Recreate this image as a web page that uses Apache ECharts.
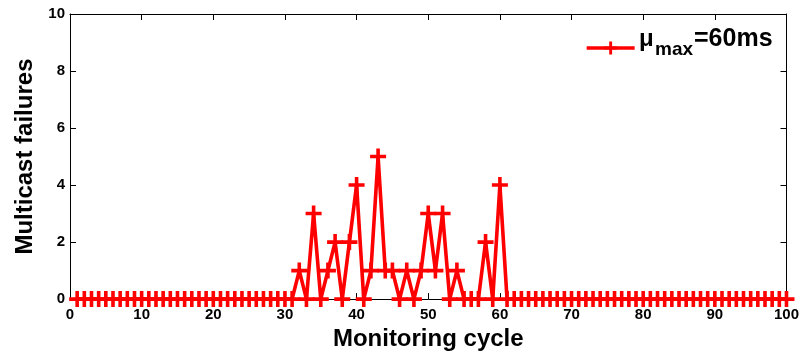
<!DOCTYPE html>
<html>
<head>
<meta charset="utf-8">
<script src="https://cdn.jsdelivr.net/npm/echarts@6/dist/echarts.min.js"></script>
<style>
  html, body { margin: 0; padding: 0; background: #fff; }
  #chart { width: 802px; height: 356px; }
</style>
</head>
<body>
<div id="chart"></div>
<script>
const FONT = "'Liberation Sans', Arial, sans-serif";
const RED = "#ff0000";

// failures per monitoring cycle, cycles 1..100
const failures = [
  0, 0, 0, 0, 0, 0, 0, 0, 0, 0,
  0, 0, 0, 0, 0, 0, 0, 0, 0, 0,
  0, 0, 0, 0, 0, 0, 0, 0, 0, 0,
  0, 1, 0, 3, 0, 1, 2, 0, 2, 4,
  0, 1, 5, 1, 1, 0, 1, 0, 1, 3,
  1, 3, 0, 1, 0, 0, 0, 2, 0, 4,
  0, 0, 0, 0, 0, 0, 0, 0, 0, 0,
  0, 0, 0, 0, 0, 0, 0, 0, 0, 0,
  0, 0, 0, 0, 0, 0, 0, 0, 0, 0,
  0, 0, 0, 0, 0, 0, 0, 0, 0, 0,
];
const firstCycle = 1;
const xTicks = [0, 10, 20, 30, 40, 50, 60, 70, 80, 90, 100];
const yTicks = [0, 2, 4, 6, 8, 10];

const points = failures.map((v, i) => [firstCycle + i, v]);

// plus marker, filled bars
const PLUS = "path://M0,6.2h16v3.6h-16z M6.2,0h3.6v16h-3.6z";

const chart = echarts.init(document.getElementById("chart"), null, { renderer: "canvas" });

const axisLine = { show: true, onZero: false, lineStyle: { color: "#000", width: 1 } };
const tickStyle = { show: true, inside: true, length: 6, lineStyle: { color: "#000" } };
const labelStyle = { color: "#000", fontSize: 15, fontWeight: "bold", fontFamily: FONT };

chart.setOption({
  animation: false,
  grid: { left: 70, right: 12, top: 14, bottom: 54, containLabel: false },
  legend: {
    data: ["mu"],
    left: 585,
    top: 40,
    padding: 0,
    itemWidth: 48,
    itemHeight: 16,
    lineStyle: { width: 3.3, color: RED },
    formatter: () => "",
  },
  xAxis: [
    {
      type: "value",
      min: xTicks[0],
      max: xTicks[xTicks.length - 1],
      interval: 10,
      axisLine,
      axisTick: tickStyle,
      splitLine: { show: false },
      axisLabel: { ...labelStyle, margin: 8 },
      name: "Monitoring cycle",
      nameLocation: "middle",
      nameGap: 22,
      nameTextStyle: { color: "#000", fontSize: 24, fontWeight: "bold", fontFamily: FONT },
    },
    {
      type: "value",
      position: "top",
      min: 0,
      max: 100,
      interval: 10,
      axisLine,
      axisTick: tickStyle,
      axisLabel: { show: false },
      splitLine: { show: false },
    },
  ],
  yAxis: [
    {
      type: "value",
      min: yTicks[0],
      max: yTicks[yTicks.length - 1],
      interval: 2,
      axisLine,
      axisTick: tickStyle,
      splitLine: { show: false },
      axisLabel: { ...labelStyle, margin: 5 },
      name: "Multicast failures",
      nameLocation: "middle",
      nameGap: 30,
      nameTextStyle: { color: "#000", fontSize: 24, fontWeight: "bold", fontFamily: FONT },
    },
    {
      type: "value",
      position: "right",
      min: 0,
      max: 10,
      interval: 2,
      axisLine,
      axisTick: tickStyle,
      axisLabel: { show: false },
      splitLine: { show: false },
    },
  ],
  series: [
    {
      name: "mu",
      type: "line",
      data: points,
      clip: false,
      symbol: PLUS,
      symbolSize: 16,
      showAllSymbol: true,
      lineStyle: { color: RED, width: 3.6 },
      itemStyle: { color: RED },
      z: 3,
    },
  ],
  graphic: [
    {
      type: "text",
      left: 639,
      top: 27,
      style: { text: "\u03bc", font: "bold 24px " + FONT, fill: "#000" },
    },
    {
      type: "text",
      left: 655,
      top: 40,
      style: { text: "max", font: "bold 19px " + FONT, fill: "#000" },
    },
    {
      type: "text",
      left: 694,
      top: 27,
      style: { text: "=60ms", font: "bold 25px " + FONT, fill: "#000" },
    },
  ],
});
</script>
</body>
</html>
